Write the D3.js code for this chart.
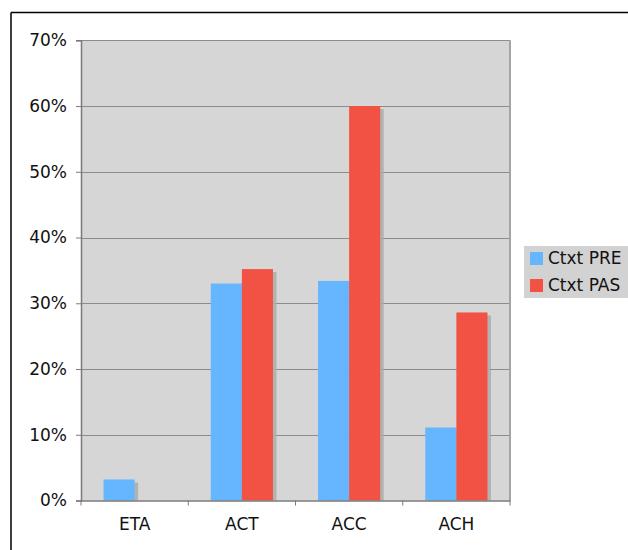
<!DOCTYPE html>
<html>
<head>
<meta charset="utf-8">
<script src="https://cdn.jsdelivr.net/npm/d3@7"></script>
<style>
  html, body { margin: 0; padding: 0; background: #ffffff; }
  svg { display: block; font-family: "DejaVu Sans", Verdana, sans-serif; }
</style>
</head>
<body>
<svg id="chart" width="628" height="550"></svg>
<script>
// Categories and series values (percent)
const categories = ["ETA", "ACT", "ACC", "ACH"];
const seriesNames = ["Ctxt PRE", "Ctxt PAS"];
const ctxtPre = [3.2, 33.0, 33.4, 11.1];
const ctxtPas = [0, 35.2, 60.0, 28.6];
const yTicks = [0, 10, 20, 30, 40, 50, 60, 70];
const seriesColors = ["#66b6ff", "#f25243"];

const svg = d3.select("#chart");
const plot = { left: 81, right: 510, top: 40.3, bottom: 500.5 };

// Outer frame (only the top and left edges fall inside the view)
svg.append("line").attr("x1", 11).attr("x2", 628).attr("y1", 12.5).attr("y2", 12.5)
  .attr("stroke", "#000").attr("stroke-width", 1.5);
svg.append("line").attr("x1", 11).attr("x2", 11).attr("y1", 12.5).attr("y2", 550)
  .attr("stroke", "#000").attr("stroke-width", 1.5);

const x0 = d3.scaleBand().domain(categories).range([plot.left, plot.right]).paddingInner(0).paddingOuter(0);
const y = d3.scaleLinear().domain([0, 70]).range([plot.bottom, plot.top]);
const groupPad = 0.21;
const x1 = d3.scaleBand().domain(seriesNames)
  .range([x0.bandwidth() * groupPad, x0.bandwidth() * (1 - groupPad)]);

// Plot background
svg.append("rect").attr("x", plot.left).attr("y", plot.top)
  .attr("width", plot.right - plot.left).attr("height", plot.bottom - plot.top)
  .attr("fill", "#d6d6d6");

// Horizontal gridlines
svg.append("g").selectAll("line").data(yTicks.filter(t => t > 0)).join("line")
  .attr("x1", plot.left).attr("x2", plot.right)
  .attr("y1", d => Math.round(y(d)) + 0.5).attr("y2", d => Math.round(y(d)) + 0.5)
  .attr("stroke", "#8c8c8c").attr("stroke-width", 1);

// Right edge of the plot area
svg.append("line").attr("x1", plot.right).attr("x2", plot.right)
  .attr("y1", plot.top).attr("y2", plot.bottom)
  .attr("stroke", "#a4a4a4").attr("stroke-width", 2);

// Bars with a soft drop shadow
const rows = categories.map((c, i) => ({ cat: c, vals: [ctxtPre[i], ctxtPas[i]] }));
const groups = svg.append("g").selectAll("g").data(rows).join("g")
  .attr("transform", d => `translate(${x0(d.cat)},0)`);

const bars = groups.selectAll("g.bar")
  .data(d => d.vals.map((v, j) => ({ name: seriesNames[j], value: v, color: seriesColors[j] })).filter(b => b.value > 0))
  .join("g").attr("class", "bar");

bars.append("rect")
  .attr("x", d => x1(d.name) + 3.5).attr("y", d => y(d.value) + 3)
  .attr("width", x1.bandwidth()).attr("height", d => plot.bottom - y(d.value) - 3)
  .attr("fill", "#ababab").attr("opacity", 0.85);
bars.append("rect")
  .attr("x", d => x1(d.name)).attr("y", d => y(d.value))
  .attr("width", x1.bandwidth()).attr("height", d => plot.bottom - y(d.value))
  .attr("fill", d => d.color);

// Y axis
const yAxis = svg.append("g").attr("transform", `translate(${plot.left},0)`)
  .call(d3.axisLeft(y).tickValues(yTicks).tickFormat(d => d + "%").tickSize(5).tickPadding(9));
yAxis.select(".domain").attr("stroke", "#7a7a7a").attr("stroke-width", 1.5);
yAxis.selectAll(".tick line").attr("stroke", "#7a7a7a");
yAxis.selectAll("text").attr("font-size", 17).attr("fill", "#111")
  .attr("font-family", "DejaVu Sans, Verdana, sans-serif");

// X axis
const xAxis = svg.append("g").attr("transform", `translate(0,${plot.bottom})`)
  .call(d3.axisBottom(x0).tickSize(0).tickPadding(17));
xAxis.select(".domain").attr("stroke", "#7a7a7a").attr("stroke-width", 1.5);
xAxis.selectAll("text").attr("font-size", 17).attr("fill", "#111")
  .attr("font-family", "DejaVu Sans, Verdana, sans-serif");
// Category boundary ticks
svg.append("g").selectAll("line")
  .data(categories.map(c => x0(c)).concat([plot.right]))
  .join("line")
  .attr("x1", d => d).attr("x2", d => d)
  .attr("y1", plot.bottom).attr("y2", plot.bottom + 5)
  .attr("stroke", "#7a7a7a");

// Legend
const legend = svg.append("g");
legend.append("rect").attr("x", 524).attr("y", 246).attr("width", 110).attr("height", 52)
  .attr("fill", "#d2d2d2");
const items = legend.selectAll("g").data(seriesNames).join("g")
  .attr("transform", (d, i) => `translate(530,${252 + i * 27})`);
items.append("rect").attr("width", 13).attr("height", 13)
  .attr("fill", (d, i) => seriesColors[i]);
items.append("text").attr("x", 18).attr("y", 6.5).attr("dy", "0.35em")
  .attr("font-size", 17).attr("fill", "#111").text(d => d);
</script>
</body>
</html>
